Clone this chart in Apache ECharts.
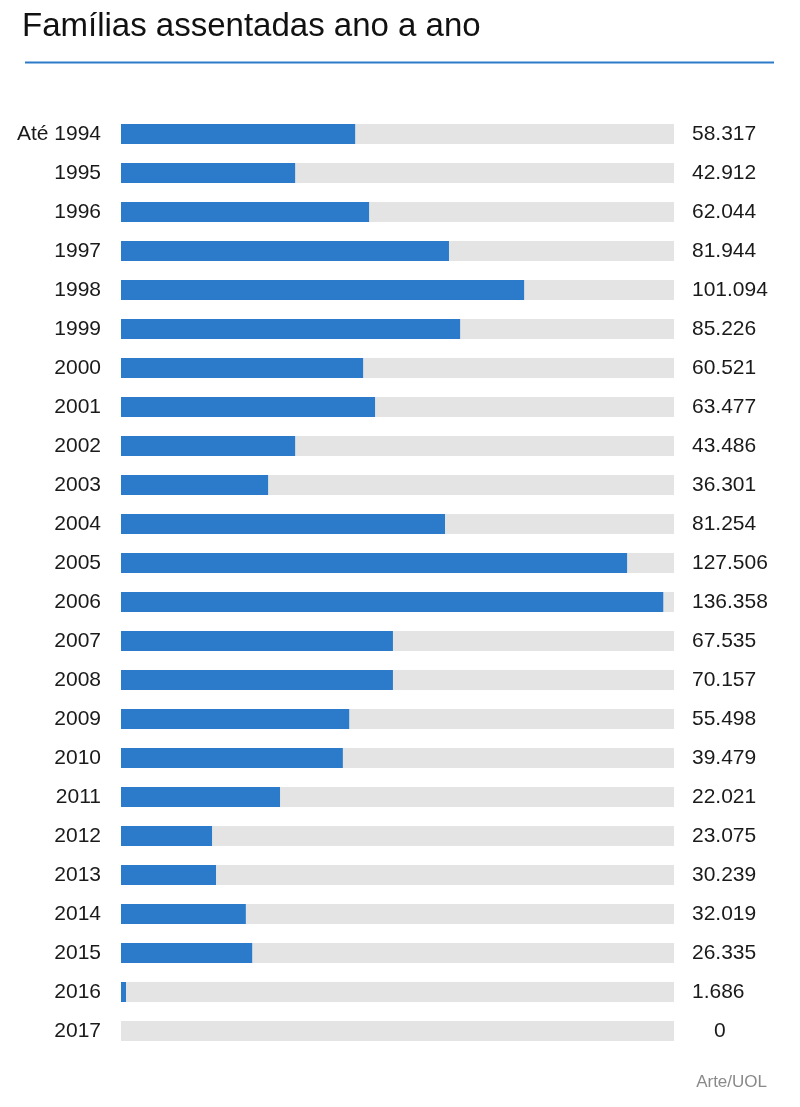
<!DOCTYPE html>
<html>
<head>
<meta charset="utf-8">
<script src="https://cdn.jsdelivr.net/npm/echarts@6/dist/echarts.min.js"></script>
<style>
html,body{margin:0;padding:0;background:#fff;}
#chart{width:800px;height:1107px;}
</style>
</head>
<body>
<div id="chart"></div>
<script>
// Categories (years)
const categories = ['Até 1994','1995','1996','1997','1998','1999','2000','2001','2002','2003','2004','2005','2006','2007','2008','2009','2010','2011','2012','2013','2014','2015','2016','2017'];
// Bar lengths as drawn in the picture (thousands of families)
const barValues = [58.9,43.8,62.4,82.5,101.4,85.3,60.9,63.9,43.8,37.0,81.5,127.3,136.4,68.4,68.4,57.4,55.8,40.0,22.9,23.9,31.4,33.0,1.26,0];
// Value labels printed at the right
const valueLabels = ['58.317','42.912','62.044','81.944','101.094','85.226','60.521','63.477','43.486','36.301','81.254','127.506','136.358','67.535','70.157','55.498','39.479','22.021','23.075','30.239','32.019','26.335','1.686','0'];
const axisMax = 139.1;

const FONT = '"Liberation Sans", Arial, sans-serif';
const chart = echarts.init(document.getElementById('chart'), null, {renderer:'canvas'});
chart.setOption({
  backgroundColor:'#ffffff',
  animation:false,
  title:{
    text:'Famílias assentadas ano a ano',
    left:17, top:5,
    textStyle:{fontFamily:FONT, fontSize:33, fontWeight:'normal', color:'#111111'}
  },
  graphic:[
    {type:'line', shape:{x1:25,y1:62.5,x2:774,y2:62.5}, style:{stroke:'#2c7bc9', lineWidth:2}},
    {type:'text', right:33, top:1074, style:{text:'Arte/UOL', font:'17px '+FONT, fill:'#8a8a8a'}}
  ],
  grid:{left:121, right:126, top:114.5, height:936},
  xAxis:{type:'value', min:0, max:axisMax, show:false},
  yAxis:[
    {type:'category', data:categories, inverse:true, position:'left',
     axisLine:{show:false}, axisTick:{show:false}, splitLine:{show:false},
     axisLabel:{margin:20, fontFamily:FONT, fontSize:21, color:'#1a1a1a'}},
    {type:'category', data:valueLabels, inverse:true, position:'right',
     axisLine:{show:false}, axisTick:{show:false}, splitLine:{show:false},
     axisLabel:{margin:18, align:'left', fontFamily:FONT, fontSize:21, color:'#1a1a1a',
       formatter:function(v){ return v==='0' ? '{z|0}' : v; },
       rich:{z:{padding:[0,0,0,22], fontFamily:FONT, fontSize:21, color:'#1a1a1a'}}}}
  ],
  series:[{
    type:'bar', yAxisIndex:0, data:barValues, barWidth:20,
    itemStyle:{color:'#2b7bca'},
    showBackground:true, backgroundStyle:{color:'#e4e4e4'},
    silent:true
  }]
});
</script>
</body>
</html>
